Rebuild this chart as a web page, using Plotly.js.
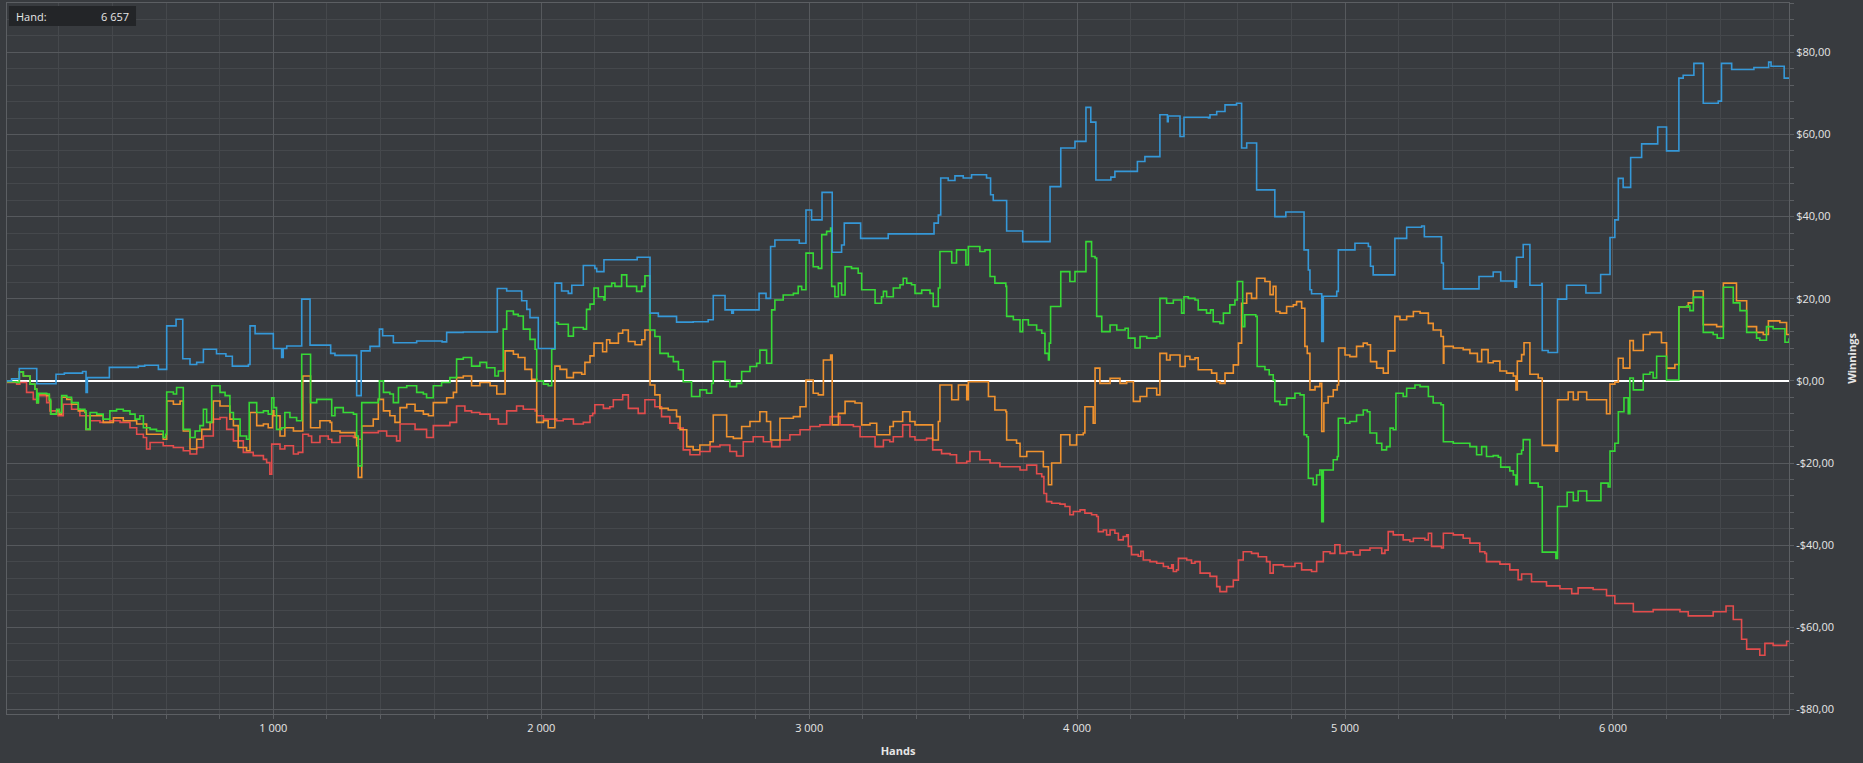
<!DOCTYPE html>
<html>
<head>
<meta charset="utf-8">
<script src="https://cdn.plot.ly/plotly-3.0.1.min.js"></script>
<style>
html,body{margin:0;padding:0;background:#383b3f;}
#chart{width:1863px;height:763px;}
</style>
</head>
<body>
<div id="chart"></div>
<script>
// ---------- data (hand number, cumulative winnings in $) ----------
const blueHands = [5,23,52,117,189,220,288,301,306,388,496,520,571,602,637,662,689,714,739,788,823,847,907,913,932,1000,1031,1037,1050,
1106,1137,1214,1230,1311,1328,1361,1396,1408,1448,1535,1630,1647,1709,1836,1871,1927,1946,1958,1989,2051,2076,2101,2114,2157,
2200,2207,2234,2358,2406,2437,2505,2567,2623,2642,2686,2711,2717,2813,2839,2856,2872,2963,2988,3009,3048,3086,3121,3131,3192,
3295,3466,3482,3491,3519,3544,3575,3606,3662,3677,3687,3737,3797,3899,3939,3992,4033,4051,4070,4126,4141,4225,4253,4309,4337,4340,4384,
4399,4490,4496,4521,4552,4595,4614,4633,4670,4738,4779,4847,4863,4869,4875,4913,4919,4969,4975,5037,5087,5095,5105,5186,5230,5286,5296,5360,5367,5500,
5553,5581,5634,5640,5665,5690,5734,5736,5758,5793,5827,5899,5954,5989,6007,6020,6038,6066,6107,6167,6200,6246,6262,6302,6337,6393,6405,6443,6526,6581,6590,6639,6657];
const blueWinnings = [0,0.5,3.0,-0.7,1.6,1.9,2.3,-2.8,0.8,3.3,3.6,3.8,2.8,13.4,15.0,5.4,4.0,4.5,7.7,6.6,6.0,3.6,4.0,13.4,11.5,7.9,5.7,7.9,8.5,
19.9,8.7,6.7,6.2,-3.6,7.3,8.4,12.6,11.0,9.3,9.7,9.5,11.8,11.9,22.5,21.9,19.5,17.4,15.4,7.9,23.8,21.9,21.3,23.3,28.1,
27.4,26.6,29.5,30.1,16.5,15.7,14.3,14.4,14.9,20.8,17.3,16.5,17.3,21.3,20.1,32.7,34.3,33.5,41.6,39.2,45.9,31.3,33.1,38.4,34.7,
35.8,38.4,40.4,49.4,48.8,49.9,49.4,50.2,49.4,45.3,43.9,36.5,33.9,47.3,56.7,58.3,66.6,63.0,48.9,49.6,51.0,53.4,54.6,64.8,63.1,64.5,59.5,
64.2,64.0,64.8,65.6,67.2,67.6,56.7,57.9,46.5,40.0,41.1,31.9,27.0,22.2,21.2,9.6,20.6,21.8,31.9,33.5,32.7,27.9,25.8,34.7,37.4,37.7,35.1,28.7,22.4,25.4,
26.5,24.3,22.8,30.1,33.2,23.3,23.7,7.4,6.9,19.9,23.3,21.4,25.9,34.9,39.2,49.3,47.1,54.4,57.7,61.8,56.0,73.7,74.4,77.3,67.6,68.1,77.3,75.8,76.3,77.6,76.6,73.7,73.7];

const greenHands = [5,42,52,67,92,110,117,123,154,164,169,191,201,210,229,247,272,297,301,316,341,365,390,415,440,465,484,502,515,540,564,589,598,602,627,639,664,689,708,726,739,751,770,801,820,838,851,876,900,910,938,963,981,994,1002,1012,1031,1043,1062,
1087,1106,1139,1162,1218,1230,1261,1299,1311,1317,1330,1392,1396,1411,1435,1448,1467,1498,1535,1560,1572,1597,1628,1659,1684,1709,1740,1771,1796,1827,1840,1858,1871,1896,1914,1933,1958,1977,1983,2008,2026,2039,2051,2064,2101,2120,2157,2169,2182,
2197,2213,2234,2238,2263,2275,2300,2319,2356,2375,2387,2406,2424,2443,2474,2493,2512,2530,2561,2592,2617,2636,2642,2686,2704,2729,2748,2779,2804,2816,2841,2860,2872,2903,2941,2959,2972,2988,3015,3034,3047,3065,3080,3084,3096,3109,3121,3134,3158,3183,3196,3227,3246,3270,
3277,3289,3314,3339,3351,3364,3382,3395,3420,3451,3463,3482,3488,3532,3550,3585,3594,3637,3656,3675,3693,3734,3737,3762,3787,3797,3818,3849,3868,3880,3893,3896,3901,3939,3973,3992,4023,4033,4054,4067,4073,4092,4123,4148,4179,4191,4216,4235,4260,4297,4309,4334,4359,4390,
4399,4415,4440,4452,4483,4498,4508,4533,4546,4570,4589,4598,4618,4626,4667,4672,4701,4717,4732,4738,4757,4782,4813,4832,4847,4857,4863,4881,4894,4906,4913,4919,4956,4971,4975,5000,5018,5043,5068,5083,5093,5118,5137,5155,5168,5180,5190,5217,5230,5261,5280,5311,5329,5358,5367,5404,5441,5466,5491,5510,5528,
5553,5572,5581,5615,5628,5638,5643,5659,5665,5690,5721,5736,5787,5793,5829,5852,5870,5902,5955,5982,5989,6007,6020,6041,6057,6063,6076,6113,6138,6150,6163,6200,6246,6275,6287,6300,6337,6374,6389,6412,6449,6474,6499,6536,6548,6573,6598,6642,6657];
const greenWinnings = [-0.2,-0.4,2.2,1.2,-0.8,-2.0,-5.3,-3.0,-3.2,-4.5,-8.1,-6.9,-7.7,-3.6,-4.0,-5.3,-6.9,-7.3,-11.8,-7.7,-8.1,-9.3,-7.3,-6.9,-7.3,-8.1,-9.3,-8.5,-11.4,-11.8,-12.2,-13.8,-13.0,-2.7,-3.2,-1.6,-11.8,-13.8,-12.2,-10.9,-6.9,-10.1,-1.2,-2.8,-3.6,-7.7,-9.3,-13.4,-14.2,-5.3,-7.7,-7.3,-8.1,-4.1,-6.5,-11.8,-11.4,-7.7,-8.9,
-9.7,6.5,-5.3,-4.5,-8.5,-6.5,-7.7,-8.1,-13.4,-20.7,-5.3,-4.5,0,-2.8,-3.2,-5.3,-1.6,-1.2,-2.8,-3.2,-4.1,-1.2,-0.4,0.8,5.3,5.7,3.6,4.5,3.2,1.2,2.4,12.6,17.0,16.2,15.8,12.6,10.1,7.7,0,-0.8,-1.2,7.7,14.2,13.8,10.9,13.0,12.6,17.4,18.7,
22.6,20.5,19.7,23.0,23.8,23.0,25.8,23.0,21.8,23.0,25.6,12.4,10.8,6.7,5.9,4.7,2.7,-0.2,-3.8,-2.2,-3.0,-0.6,4.7,0.2,-1.4,-0.6,2.3,3.5,4.3,7.5,4.3,17.3,19.7,20.9,21.3,23.0,22.2,31.1,27.8,27.4,35.6,36.4,37.2,23.0,20.5,23.8,20.9,27.8,27.4,26.2,22.2,22.2,18.9,20.5,
21.8,20.5,22.6,23.4,25.0,23.8,23.4,21.3,22.1,21.3,18.1,22.6,31.5,28.7,31.9,28.2,32.7,31.5,31.9,25.4,23.8,23.0,15.7,14.9,12.0,14.9,13.6,12.4,11.6,6.7,5.1,9.2,18.1,26.6,24.2,26.6,26.6,33.9,30.3,29.9,15.7,12.0,13.6,12.4,12.8,10.4,8.0,10.8,10.4,10.8,20.1,18.9,19.7,16.5,
20.5,20.1,19.7,17.3,16.5,17.3,14.4,14.0,16.5,18.5,19.7,24.2,13.2,16.1,15.7,3.5,2.7,1.5,0.2,-5.0,-5.8,-4.2,-3.0,-3.4,-13.1,-13.6,-23.7,-25.3,-22.9,-21.7,-34.3,-21.7,-19.2,-18.4,-9.1,-10.3,-9.9,-8.3,-7.1,-7.5,-12.7,-15.2,-16.8,-16.0,-11.5,-11.9,-3.0,-3.8,-1.8,-1.0,-1.4,-3.8,-5.4,-5.8,-14.8,-15.2,-15.2,-16.0,-18.0,-16.0,-18.4,
-18.2,-18.6,-21.0,-21.9,-22.9,-25.3,-17.8,-16.9,-14.3,-24.9,-25.8,-41.7,-43.2,-30.6,-27.1,-29.2,-26.8,-29.2,-24.9,-25.8,-17.1,-15.2,-7.5,-4.1,-8.0,0.7,-2.2,1.6,2.1,0.7,6.0,0.2,18.0,18.2,17.1,20.4,11.8,11.3,10.4,22.8,19.0,17.1,11.8,10.4,9.9,13.2,12.7,9.4,10.4];

const orangeHands = [5,42,52,67,92,110,117,123,154,164,169,191,201,210,229,247,272,297,301,316,365,403,440,490,527,564,589,602,627,652,664,689,714,733,764,776,801,838,851,869,900,913,938,963,981,997,1002,1025,1043,1075,
1093,1110,1139,1174,1212,1218,1249,1305,1311,1317,1330,1373,1392,1411,1435,1454,1473,1498,1529,1560,1579,1597,1647,1672,1684,1709,1740,1771,1809,1834,1865,1896,1914,1939,1964,1983,2008,2026,2051,2070,2095,2120,2151,2163,2182,
2197,2229,2244,2256,2288,2304,2325,2350,2375,2387,2406,2424,2443,2474,2505,2518,2543,2567,2592,2630,2642,2692,2717,2748,2779,2816,2841,2856,2891,2941,2966,2988,3015,3034,3053,3080,3086,3109,3134,3171,3196,3227,3252,3301,
3314,3349,3376,3395,3461,3482,3488,3532,3557,3588,3594,3669,3693,3734,3737,3774,3787,3812,3849,3874,3893,3905,3939,3973,3998,4023,4029,4060,4067,4085,4123,4160,4185,4210,4235,4260,4297,4309,4334,4347,4384,
4403,4421,4440,4452,4502,4521,4533,4552,4583,4602,4614,4633,4651,4670,4701,4720,4732,4742,4757,4782,4807,4819,4838,4850,4859,4869,4888,4906,4913,4921,4937,4956,4971,4976,5000,5018,5043,5068,5083,5095,5118,5143,5161,5186,5205,5230,5255,5280,5311,5329,5358,5367,5369,5404,5441,5466,5494,5510,
5534,5553,5578,5603,5628,5638,5643,5659,5668,5690,5721,5736,5787,5793,5833,5852,5870,5902,5976,5989,6007,6020,6038,6063,6076,6113,6138,6181,6200,6231,6246,6281,6300,6337,6387,6412,6461,6499,6536,6561,6580,6623,6648,6657];
const orangeWinnings = [-0.2,-0.4,2.2,1.2,-0.8,-2.0,-5.3,-3.2,-3.6,-4.9,-8.1,-7.3,-8.1,-4.0,-4.5,-5.7,-7.3,-7.7,-11.8,-8.5,-10.1,-9.0,-9.7,-10.5,-13.0,-13.0,-14.2,-4.9,-5.7,-4.9,-12.2,-16.6,-14.2,-11.8,-10.1,-4.9,-6.1,-9.3,-10.9,-16.2,-17.0,-7.7,-10.9,-10.5,-11.4,-7.3,-8.5,-13.4,-11.4,-12.2,
-12.2,1.2,-11.4,-9.7,-10.1,-12.2,-12.6,-13.8,-15.8,-23.5,-11.0,-9.3,-4.5,-7.3,-8.5,-10.1,-6.5,-5.7,-7.3,-8.1,-8.5,-5.3,-4.1,-2.8,0.8,1.2,-1.2,-0.4,-1.2,-3.2,7.3,6.5,5.7,2.8,0.4,-10.1,-9.7,-11.4,3.6,2.8,0.8,2.0,1.6,4.5,6.1,
9.2,7.1,10.0,9.2,11.6,12.4,9.6,8.8,10.0,12.4,-1.0,-3.4,-6.7,-7.1,-8.7,-11.9,-16.0,-16.8,-15.6,-14.8,-8.3,-13.6,-14.0,-11.1,-9.9,-7.5,-9.9,-14.4,-9.1,-8.7,-6.3,0.2,-3.0,-3.4,5.1,6.3,-10.7,-7.9,-5.0,-5.4,-10.7,-10.3,-13.1,-11.1,
-9.9,-7.5,-9.9,-10.7,-14.4,-9.9,-1.0,-4.6,-1.0,-4.6,-0.2,-3.8,-7.1,-7.5,-14.4,-15.2,-18.4,-17.2,-17.2,-20.9,-25.3,-20.0,-13.1,-15.6,-13.1,-12.7,-6.3,-10.3,3.1,-0.6,0.6,-0.6,-0.2,-5.0,-3.8,-1.8,-3.4,6.7,5.1,6.3,3.5,
6.0,5.2,5.6,2.7,1.9,-0.2,-0.6,1.9,3.9,9.2,18.9,21.3,20.1,25.0,24.2,21.0,23.0,16.9,16.5,18.1,18.5,19.3,17.7,8.4,6.7,-2.2,-1.4,-0.6,-12.3,-5.4,-3.8,-2.2,-1.0,8.0,6.3,5.9,8.4,9.2,8.8,4.7,3.1,1.9,7.3,15.7,14.9,15.7,16.9,16.5,14.0,12.4,10.8,4.3,8.4,8.0,7.6,6.7,4.7,7.6,
4.4,4.8,2.4,1.9,1.2,-2.2,4.8,6.4,9.3,1.6,0.7,-15.7,-17.1,-4.6,-2.7,-4.6,-2.7,-4.6,-8.0,-0.8,-0.3,5.5,3.1,9.8,7.4,11.3,11.8,9.3,3.1,4.0,18.0,19.0,21.9,13.7,13.2,23.8,19.5,13.2,11.8,11.3,14.6,14.2,11.3,11.3];

const redHands = [5,42,54,79,104,123,154,166,197,216,247,278,316,353,390,428,465,490,515,527,540,589,627,664,689,714,739,776,801,826,851,888,925,963,975,987,994,1025,1043,1075,
1093,1110,1131,1143,1174,1205,1218,1249,1299,1317,1330,1392,1423,1460,1473,1498,1529,1572,1597,1659,1684,1715,1740,1771,1809,1840,1871,1908,1933,1977,1983,2008,2058,2082,2120,2157,2182,
2192,2200,2232,2256,2269,2304,2325,2362,2387,2424,2449,2480,2511,2530,2555,2592,2630,2667,2704,2729,2754,2791,2829,2860,2891,2928,2966,3003,3040,3078,3115,3165,3190,3246,3277,3301,
3314,3349,3376,3395,3438,3461,3494,3526,3550,3588,3600,3637,3675,3712,3749,3787,3812,3849,3868,3876,3886,3905,3936,3955,3973,3986,4011,4029,4054,4073,4079,4098,4110,4123,4141,4154,4172,4185,4191,4203,4228,4238,4247,4272,4297,4322,4340,4353,4359,4371,4378,4409,4427,4440,4459,
4496,4521,4533,4558,4583,4602,4620,4651,4676,4707,4720,4732,4770,4813,4838,4875,4894,4919,4944,4962,4981,5006,5031,5056,5093,5137,5149,5161,5180,5217,5242,5255,5298,5311,5323,5360,5367,5404,5441,5466,5503,5522,5528,
5578,5615,5646,5659,5696,5752,5802,5846,5870,5926,5976,6007,6051,6076,6150,6250,6281,6374,6422,6449,6480,6499,6548,6567,6598,6648,6657];
const redWinnings = [-0.4,-0.8,-0.4,-2.8,-4.5,-3.6,-5.3,-7.3,-8.5,-5.7,-6.9,-8.5,-9.7,-10.1,-9.7,-10.1,-11.4,-13.0,-13.8,-16.6,-15.0,-15.8,-16.2,-17.0,-17.8,-16.2,-13.4,-9.3,-8.9,-11.8,-14.6,-17.4,-18.2,-19.1,-19.9,-22.7,-15.4,-16.6,-15.8,-17.8,
-17.4,-13.0,-13.4,-15.0,-13.4,-14.2,-15.0,-13.4,-13.8,-14.2,-12.6,-12.2,-13.4,-14.6,-10.5,-10.5,-11.8,-13.8,-10.9,-10.1,-6.1,-7.3,-7.7,-8.1,-9.3,-10.5,-7.3,-6.1,-6.9,-7.3,-8.5,-9.3,-9.7,-9.3,-10.5,-10.1,-8.5,
-7.9,-5.8,-6.7,-6.3,-4.6,-3.4,-6.7,-7.9,-4.6,-6.3,-8.7,-10.3,-11.5,-16.8,-18.0,-17.2,-16.0,-15.6,-17.2,-18.3,-14.8,-13.6,-14.8,-16.0,-14.4,-13.1,-11.9,-11.1,-10.7,-8.7,-10.7,-11.1,-13.6,-16.0,-14.4,-14.8,
-13.6,-10.7,-13.6,-14.4,-14.0,-16.8,-17.7,-18.0,-20.0,-19.6,-17.2,-19.2,-20.0,-20.9,-20.9,-21.7,-20.5,-22.6,-23.3,-27.4,-29.4,-29.8,-30.0,-30.6,-32.6,-31.8,-31.4,-32.2,-32.6,-33.0,-36.7,-36.3,-37.5,-36.3,-37.1,-38.7,-37.9,-37.5,-40.3,-42.3,-42.7,-41.5,-43.6,-44.0,-44.4,-45.2,-45.6,-44.8,-46.4,-46.0,-43.2,-43.6,-44.4,-44.0,-46.8,
-47.6,-50.1,-51.3,-50.1,-48.5,-43.6,-41.6,-42.0,-42.8,-44.0,-46.8,-44.8,-45.2,-44.4,-46.0,-46.4,-44.0,-41.6,-42.0,-39.9,-42.0,-41.6,-42.4,-41.2,-40.7,-42.0,-41.2,-36.7,-37.5,-38.7,-39.1,-38.3,-38.7,-37.1,-40.3,-40.7,-37.1,-37.5,-38.3,-39.5,-41.6,-42.0,-44.0,
-44.6,-46.0,-48.4,-47.0,-48.9,-49.9,-50.6,-51.8,-50.4,-50.8,-52.3,-54.2,-54.2,-56.2,-55.7,-56.2,-57.2,-56.2,-54.8,-58.1,-62.9,-65.3,-66.8,-63.9,-64.4,-63.4,-63.4];

const xTickVals = [1000, 2000, 3000, 4000, 5000, 6000];
const xTickText = ['1 000', '2 000', '3 000', '4 000', '5 000', '6 000'];
const yTickVals = [-80, -60, -40, -20, 0, 20, 40, 60, 80];
const yTickText = ['-$80,00', '-$60,00', '-$40,00', '-$20,00', '$0,00', '$20,00', '$40,00', '$60,00', '$80,00'];
const handLabel = 'Hand:';
const lastHand = 6657;

// ---------- chart ----------
const BG = '#383b3f';
const MAJOR = '#56595d';
const MINOR = '#45484c';
const TXT = '#e6e6e6';
const FONT = '"Open Sans", "Noto Sans", sans-serif';

function series(x, y, color) {
  return {x: x, y: y, type: 'scatter', mode: 'lines',
          line: {color: color, width: 1.6, shape: 'hv'}, hoverinfo: 'skip'};
}

const traces = [
  series(redHands, redWinnings, '#e24c4c'),
  series(orangeHands, orangeWinnings, '#f0922e'),
  series(greenHands, greenWinnings, '#36d936'),
  series(blueHands, blueWinnings, '#3598d8')
];

function fmtHand(n) { return String(n).replace(/\B(?=(\d{3})+(?!\d))/g, ' '); }

const layout = {
  width: 1863, height: 763,
  paper_bgcolor: BG, plot_bgcolor: BG,
  margin: {l: 7, r: 74, t: 3, b: 49, pad: 0},
  showlegend: false,
  font: {family: FONT, size: 11, color: TXT},
  xaxis: {
    range: [6, 6657], autorange: false,
    tickmode: 'array', tickvals: xTickVals, ticktext: xTickText,
    showgrid: true, gridcolor: MAJOR, gridwidth: 1,
    zeroline: false,
    showline: true, mirror: true, linecolor: '#5c5f63', linewidth: 1,
    ticks: 'outside', ticklen: 4, tickcolor: '#5c5f63',
    tickfont: {family: FONT, size: 11, color: TXT},
    minor: {tickmode: 'linear', tick0: 0, dtick: 200, showgrid: true, gridcolor: MINOR, gridwidth: 1,
            ticks: 'outside', ticklen: 4, tickcolor: '#5c5f63'},
    title: {text: 'Hands', font: {family: FONT, size: 11, color: TXT, weight: 'bold'}, standoff: 13},
    automargin: false, fixedrange: true
  },
  yaxis: {
    side: 'right',
    range: [-81.1, 92.0], autorange: false,
    tickmode: 'array', tickvals: yTickVals, ticktext: yTickText,
    showgrid: true, gridcolor: MAJOR, gridwidth: 1,
    zeroline: true, zerolinecolor: '#ffffff', zerolinewidth: 2.5,
    showline: true, mirror: true, linecolor: '#5c5f63', linewidth: 1,
    ticks: 'outside', ticklen: 4, tickcolor: '#5c5f63',
    tickfont: {family: FONT, size: 11, color: TXT},
    minor: {tickmode: 'linear', tick0: 0, dtick: 4, showgrid: true, gridcolor: MINOR, gridwidth: 1,
            ticks: 'outside', ticklen: 4, tickcolor: '#5c5f63'},
    title: {text: 'Winnings', font: {family: FONT, size: 11, color: TXT, weight: 'bold'}, standoff: 15},
    automargin: false, fixedrange: true
  },
  shapes: [{
    type: 'rect', xref: 'paper', yref: 'paper',
    x0: 0.0011, x1: 0.0724, y0: 0.9677, y1: 0.9958,
    fillcolor: '#232528', line: {width: 0}, layer: 'above'
  }],
  annotations: [
    {xref: 'paper', yref: 'paper', x: 0.0039, y: 0.9817, xanchor: 'left', yanchor: 'middle',
     text: handLabel, showarrow: false, font: {family: FONT, size: 11, color: TXT}},
    {xref: 'paper', yref: 'paper', x: 0.0696, y: 0.9817, xanchor: 'right', yanchor: 'middle',
     text: fmtHand(lastHand), showarrow: false, font: {family: FONT, size: 11, color: TXT}}
  ]
};

Plotly.newPlot('chart', traces, layout, {staticPlot: true, displayModeBar: false});
</script>
</body>
</html>
